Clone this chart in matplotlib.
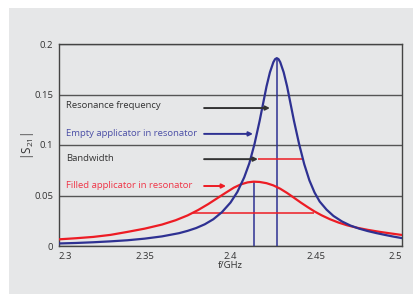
import matplotlib.pyplot as plt
from matplotlib.patches import Rectangle

# ------------------------------------------------------------
# Data
# ------------------------------------------------------------
f_empty = [2.300, 2.310, 2.320, 2.330, 2.340, 2.350, 2.360, 2.370, 2.375, 2.380,
           2.385, 2.390, 2.395, 2.400, 2.404, 2.408, 2.411, 2.414, 2.417, 2.419,
           2.421, 2.423, 2.425, 2.426, 2.427, 2.428, 2.429, 2.431, 2.433, 2.435,
           2.437, 2.440, 2.443, 2.446, 2.449, 2.452, 2.456, 2.460, 2.465, 2.470,
           2.475, 2.480, 2.485, 2.490, 2.495, 2.500]
s21_empty = [0.0025, 0.0030, 0.0037, 0.0046, 0.0057, 0.0073, 0.0095, 0.0127, 0.0150, 0.0178,
             0.0215, 0.0265, 0.0335, 0.0430, 0.0535, 0.0680, 0.0820, 0.1010, 0.1240, 0.1410,
             0.1580, 0.1720, 0.1820, 0.1850, 0.1860, 0.1850, 0.1820, 0.1720, 0.1580, 0.1410,
             0.1240, 0.1010, 0.0810, 0.0650, 0.0530, 0.0440, 0.0360, 0.0298, 0.0243, 0.0202,
             0.0172, 0.0148, 0.0128, 0.0110, 0.0093, 0.0078]

f_filled = [2.300, 2.310, 2.320, 2.330, 2.340, 2.350, 2.360, 2.368, 2.375, 2.381,
            2.387, 2.392, 2.397, 2.402, 2.406, 2.410, 2.4135, 2.417, 2.421, 2.425,
            2.429, 2.433, 2.437, 2.441, 2.445, 2.449, 2.453, 2.458, 2.463, 2.468,
            2.474, 2.480, 2.487, 2.494, 2.500]
s21_filled = [0.0066, 0.0077, 0.0090, 0.0110, 0.0140, 0.0172, 0.0212, 0.0255, 0.0303, 0.0355,
              0.0415, 0.0470, 0.0525, 0.0578, 0.0610, 0.0630, 0.0637, 0.0634, 0.0622, 0.0600,
              0.0567, 0.0525, 0.0478, 0.0430, 0.0385, 0.0342, 0.0305, 0.0265, 0.0232, 0.0205,
              0.0180, 0.0160, 0.0140, 0.0123, 0.0109]

# resonance markers and bandwidth levels
f_res_empty, peak_empty = 2.427, 0.186
f_res_filled, peak_filled = 2.4135, 0.0637
bw_empty = (2.416, 2.4415, 0.086)
bw_filled = (2.378, 2.4485, 0.033)

labels = ["Resonance frequency", "Empty applicator in resonator",
          "Bandwidth", "Filled applicator in resonator"]
x_ticks = [2.3, 2.35, 2.4, 2.45, 2.5]
x_ticklabels = ["2.3", "2.35", "2.4", "2.45", "2.5"]
y_ticks = [0, 0.05, 0.1, 0.15, 0.2]
y_ticklabels = ["0", "0.05", "0.1", "0.15", "0.2"]

# ------------------------------------------------------------
# Styling
# ------------------------------------------------------------
plt.rcParams['font.family'] = ['Open Sans', 'DejaVu Sans']
plt.rcParams['mathtext.fontset'] = 'custom'
plt.rcParams['mathtext.rm'] = 'Open Sans'
plt.rcParams['mathtext.it'] = 'Open Sans'

navy = '#2e3192'
red = '#ed1c24'
bg = '#e6e7e8'
dark = '#333333'

fig = plt.figure(figsize=(4.13, 2.94), dpi=100)
fig.patches.append(Rectangle((9 / 413, 0), 1, 1 - 8 / 294, transform=fig.transFigure,
                             facecolor=bg, edgecolor='none', zorder=-5))

ax = fig.add_axes([59 / 413, 1 - 246 / 294, 343 / 413, 202 / 294])
ax.set_facecolor(bg)

ax.plot(f_filled, s21_filled, color=red, lw=1.6, zorder=4, solid_joinstyle='round')
ax.plot(f_empty, s21_empty, color=navy, lw=1.6, zorder=5, solid_joinstyle='round')

ax.vlines([f_res_empty, f_res_filled], 0, [peak_empty, peak_filled], color=navy, lw=1.1, zorder=3)
ax.hlines([bw_empty[2], bw_filled[2]], [bw_empty[0], bw_filled[0]], [bw_empty[1], bw_filled[1]],
          color=red, lw=1.1, zorder=3)

# annotation texts with arrows
text_colors = [dark, '#4b4fa6', dark, '#ef3446']
arrow_colors = [dark, navy, dark, red]
text_y = [0.1395, 0.111, 0.087, 0.060]
arrow_y = [0.1366, 0.111, 0.086, 0.0594]
arrow_end = [2.423, 2.4131, 2.416, 2.3974]
for lab, tc, ac, ty, ay, xe in zip(labels, text_colors, arrow_colors, text_y, arrow_y, arrow_end):
    ax.text(2.3041, ty, lab, color=tc, fontsize=6.8, va='center', ha='left', zorder=6)
    ax.annotate('', xy=(xe, ay), xytext=(2.3846, ay),
                arrowprops=dict(arrowstyle='-|>', color=ac, lw=1.4, mutation_scale=6,
                                shrinkA=0, shrinkB=0), zorder=6)

ax.set_xlim(2.3, 2.5)
ax.set_ylim(0, 0.2)
ax.set_xticks(x_ticks)
ax.set_xticklabels(x_ticklabels)
ax.set_yticks(y_ticks)
ax.set_yticklabels(y_ticklabels)
ax.tick_params(length=0, labelsize=6.8, labelcolor=dark, pad=4)
xt = ax.get_xticklabels()
xt[0].set_ha('left')
xt[-1].set_ha('right')

ax.yaxis.grid(True, color='#555555', lw=1.0)
ax.set_axisbelow(True)
for s in ax.spines.values():
    s.set_color('#444444')
    s.set_linewidth(1.0)

ax.set_xlabel('f/GHz', fontsize=6.8, color=dark, labelpad=0)
fig.text(27 / 413, 1 - 146 / 294, r'$|\mathrm{S}_{21}|$', rotation=90, fontsize=8.5,
         color=dark, ha='center', va='center')

fig.savefig('out.png', dpi=100)
